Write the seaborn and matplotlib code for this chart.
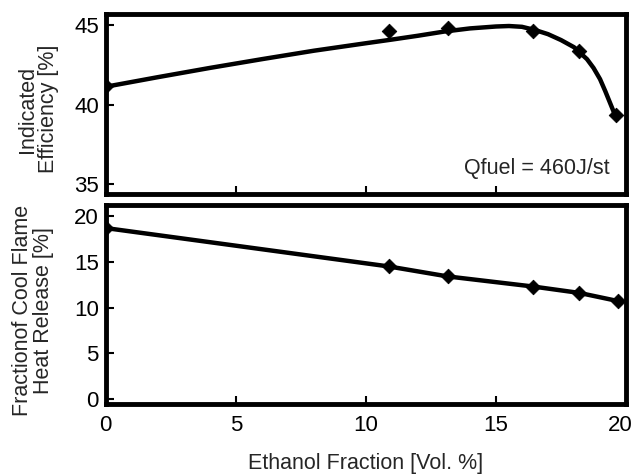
import matplotlib
matplotlib.use("Agg")
import matplotlib.pyplot as plt
import matplotlib.transforms as mtransforms
import seaborn as sns
import pandas as pd

# Measured points: ethanol fraction [vol. %]
ethanol_eff = [0.0, 10.87, 13.15, 16.42, 18.2, 19.6]
efficiency = [41.15, 44.6, 44.8, 44.63, 43.37, 39.36]

# Fitted efficiency trend
fit_x = [0.0, 2.0, 4.0, 6.0, 8.0, 10.0, 11.0, 12.0, 13.0, 14.0, 15.0, 15.5,
         16.0, 16.5, 17.0, 17.5, 18.0, 18.5, 18.75, 19.0, 19.2, 19.4, 19.55, 19.65]
fit_eff = [41.12, 41.72, 42.3, 42.85, 43.38, 43.85, 44.08, 44.32, 44.58, 44.78,
           44.9, 44.93, 44.88, 44.68, 44.42, 44.05, 43.6, 42.85, 42.3, 41.6,
           40.85, 40.05, 39.45, 39.08]

# Cool flame heat release fraction
ethanol_cf = [0.0, 10.87, 13.15, 16.42, 18.2, 19.7]
cool_flame = [18.7, 14.5, 13.4, 12.3, 11.6, 10.7]

x_ticks = [0, 5, 10, 15, 20]
eff_ticks = [35, 40, 45]
cf_ticks = [0, 5, 10, 15, 20]

FS = 15.5
TICK_FS = 16

sns.set_theme(style="white")
plt.rcParams["font.family"] = ["Liberation Sans", "DejaVu Sans"]
plt.rcParams["font.size"] = FS

fig = plt.figure(figsize=(6.33, 4.74), dpi=100)
ax1 = fig.add_axes([0.167, 0.591, 0.822, 0.380])
ax2 = fig.add_axes([0.167, 0.148, 0.822, 0.420])

df_eff = pd.DataFrame({"x": ethanol_eff, "y": efficiency})
df_fit = pd.DataFrame({"x": fit_x, "y": fit_eff})
df_cf = pd.DataFrame({"x": ethanol_cf, "y": cool_flame})

sns.lineplot(data=df_fit, x="x", y="y", ax=ax1, color="black", linewidth=3.2,
             sort=False)
sns.scatterplot(data=df_eff, x="x", y="y", ax=ax1, color="black", marker="D",
                s=55, edgecolor="black", zorder=5)

sns.lineplot(data=df_cf, x="x", y="y", ax=ax2, color="black", linewidth=3.2,
             sort=False)
sns.scatterplot(data=df_cf, x="x", y="y", ax=ax2, color="black", marker="D",
                s=55, edgecolor="black", zorder=5)

ax1.set_xlim(0, 20)
ax1.set_ylim(34.4, 45.7)
ax1.set_xticks(x_ticks)
ax1.set_xticklabels([])
ax1.set_yticks(eff_ticks)
ax1.set_xlabel("")
ax1.set_ylabel("Indicated\nEfficiency [%]", fontsize=FS, linespacing=1.0)
ax1.text(0.968, 0.14, "Qfuel = 460J/st", transform=ax1.transAxes,
         ha="right", va="center", fontsize=FS)

ax2.set_xlim(0, 20)
ax2.set_ylim(-0.55, 21.25)
ax2.set_xticks(x_ticks)
ax2.set_yticks(cf_ticks)
ax2.set_xlabel("Ethanol Fraction [Vol. %]", fontsize=FS, labelpad=12)
ax2.set_ylabel("Fractionof Cool Flame\nHeat Release [%]", fontsize=FS,
               linespacing=1.0)

for ax in (ax1, ax2):
    for sp in ax.spines.values():
        sp.set_visible(True)
        sp.set_color("black")
        sp.set_linewidth(3.5)
    ax.tick_params(axis="both", which="major", direction="in", length=6,
                   width=1.5, color="black", labelsize=TICK_FS, pad=5,
                   left=True, bottom=True, labelcolor="black")
    ax.tick_params(axis="x", pad=8)
    ax.set_facecolor("white")

ax1.yaxis.set_label_coords(-0.09, 0.47)
ax2.yaxis.set_label_coords(-0.10, 0.47)

# keep the last x tick label inside the figure edge
fig.canvas.draw()
last = ax2.get_xticklabels()[-1]
last.set_transform(last.get_transform() +
                   mtransforms.ScaledTranslation(-6 / 100, 0, fig.dpi_scale_trans))

fig.savefig("out.png", dpi=100, facecolor="white")
